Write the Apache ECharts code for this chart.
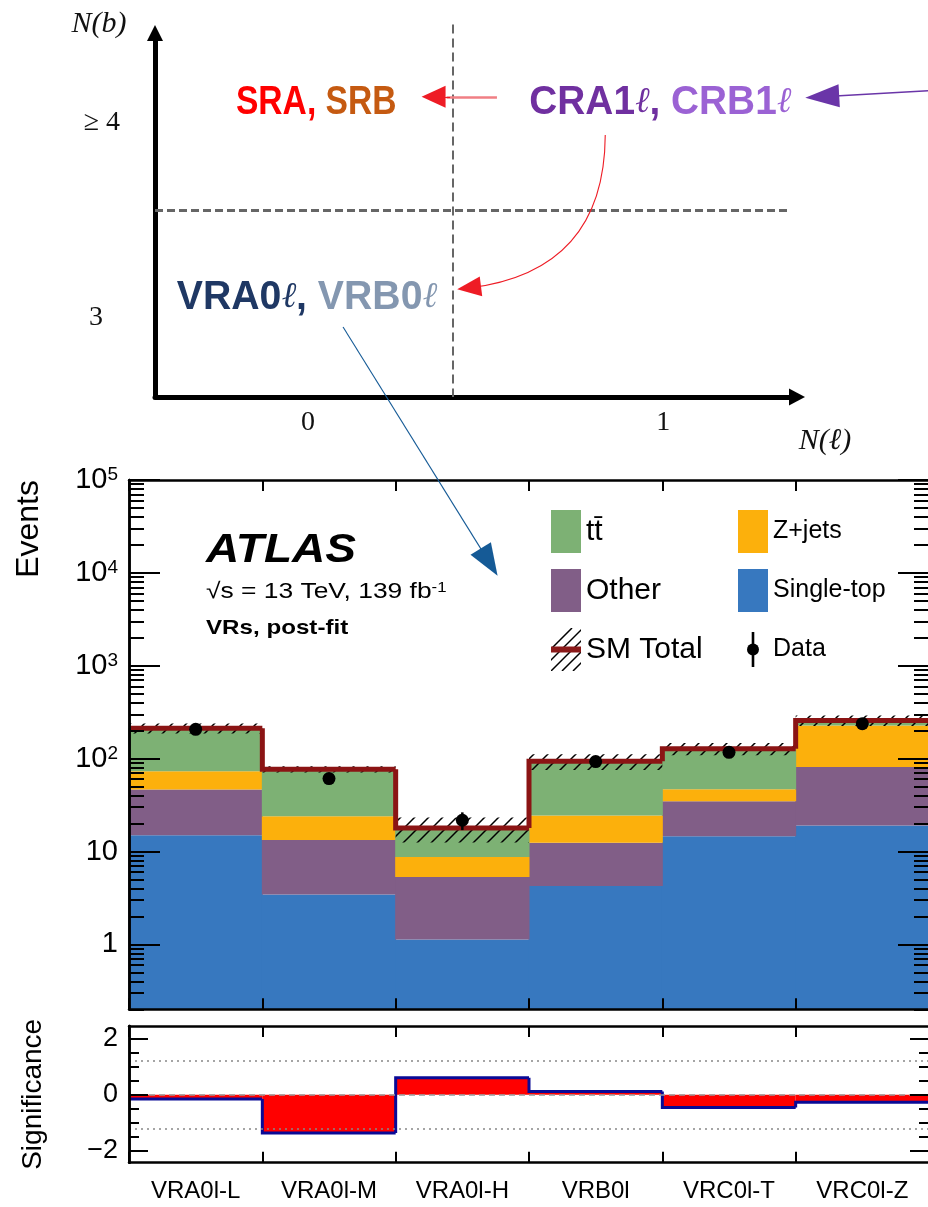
<!DOCTYPE html>
<html><head><meta charset="utf-8">
<script src="https://cdn.jsdelivr.net/npm/echarts@6/dist/echarts.min.js"></script>
<style>html,body{margin:0;padding:0;background:#fff}#c{width:928px;height:1207px}</style>
</head><body><div id="c"></div>
<script>
// ================= DATA =================
const categories = ['VRA0l-L', 'VRA0l-M', 'VRA0l-H', 'VRB0l', 'VRC0l-T', 'VRC0l-Z'];
const singleTop = [15.0, 3.45, 1.13, 4.24, 14.6, 19.0];
const otherBkg  = [31.4, 9.85, 4.2, 8.16, 20.2, 62.3];
const zJets     = [26.6, 10.7, 3.37, 12.0, 12.0, 146.7];
const ttbar     = [140, 53, 9.2, 69.2, 81.2, 30];
const smTotal    = [213, 77, 17.9, 93.6, 128, 258];
const smTotalErr = [26, 6, 5.4, 18, 19, 34];
const dataObs = [207, 61, 21.7, 93, 117, 238];
const dataErr = [14, 8, 4.7, 9.6, 10.8, 15.4];
const significance = [-0.15, -1.36, 0.61, 0.12, -0.45, -0.27];
const sigRefDotted = [1.2, -1.2];

const mainYMin = 0.2, mainYMax = 100000;
const mainYMajor = [1, 10, 100, 1000, 10000, 100000];
const mainYMajorLabels = ['1', '10', '10^2', '10^3', '10^4', '10^5'];
const sigYMajor = [-2, 0, 2];
const sigYMajorLabels = ['\u22122', '0', '2'];
const sigYMinor = [-1.5, -1, -0.5, 0.5, 1, 1.5];

// schematic (top) in its own axis units
const diagXTicks = [0, 1];
const diagXTickLabels = ['0', '1'];
const diagYTicks = [3, 4];
const diagYTickLabels = ['3', '\u2265 4'];
const diagDividerX = 0.408;
const diagDividerY = 3.554;
const diagTexts = [
  { pos: [0.023, 4.103], text: '{r|SRA, }{o|SRB}', sx: 0.84 },
  { pos: [0.992, 4.103], text: '{p1|CRA1}{p1l|\u2113}{p1|, }{p2|CRB1}{p2l|\u2113}', sx: 0.97 },
  { pos: [-0.003, 3.103], text: '{n1|VRA0}{n1l|\u2113}{n1|, }{n2|VRB0}{n2l|\u2113}', sx: 0.98 },
  { pos: [-0.589, 4.508], text: '{m|N(b)}', sx: 1 },
  { pos: [1.456, 2.369], text: '{m|N(\u2113)}', sx: 1 }
];
const arrowRedShaft = [[0.532, 4.133], [0.39, 4.133]];
const arrowRedHead  = [[0.40, 4.133], [0.3535, 4.133]];
const arrowPurple   = [[1.746, 4.164], [1.448, 4.133]];
const arrowCurve    = [[0.837, 3.938], [0.4535, 3.154]];
const arrowBlue     = [[0.0986, 2.954], [0.51, 1.749]];

// minor log ticks 2..9 x 10^k
const mainYMinor = [];
[0.1, 1, 10, 100, 1000, 10000].forEach(d => { for (let m = 2; m <= 9; m++) mainYMinor.push(+(m * d).toPrecision(3)); });

// ================= STYLE HELPERS =================
const SANS = "'Liberation Sans', Arial, sans-serif";
const SERIF = "'Liberation Serif', 'DejaVu Serif', serif";
const MATH = "'DejaVu Serif', 'Liberation Serif', serif";

function makeCanvas(w, h, draw) { const c = document.createElement('canvas'); c.width = w; c.height = h; draw(c.getContext('2d'), w, h); return c; }
const hatchTile = makeCanvas(14, 14, (g) => {
  g.strokeStyle = '#000'; g.lineWidth = 1.5; g.beginPath();
  g.moveTo(-1, 15); g.lineTo(15, -1); g.moveTo(-2, 2); g.lineTo(2, -2); g.moveTo(12, 16); g.lineTo(16, 12); g.stroke();
});
const hatchPattern = { image: hatchTile, repeat: 'repeat' };
const smIcon = makeCanvas(30, 43, (g, w, h) => {
  g.strokeStyle = '#000'; g.lineWidth = 1.5; g.beginPath();
  for (let k = -2; k < 5; k++) { g.moveTo(k * 11, h); g.lineTo(k * 11 + h, 0); }
  g.stroke();
  g.fillStyle = '#8b1a1a'; g.fillRect(0, h / 2 - 3, w, 6);
}).toDataURL();
const dataIcon = makeCanvas(30, 43, (g, w, h) => {
  g.fillStyle = '#000'; g.fillRect(w / 2 - 1.3, 4, 2.6, h - 8);
  g.beginPath(); g.arc(w / 2, h / 2, 6, 0, Math.PI * 2); g.fill();
}).toDataURL();

const black = '#000';
const mainCommonY = (pos, ticks, len, showLabel) => ({
  type: 'log', logBase: 10, gridIndex: 1, min: mainYMin, max: mainYMax, position: pos, z: 6,
  axisLine: { show: true, onZero: false, lineStyle: { color: black, width: 2.5 } },
  axisTick: { show: true, inside: true, length: len, customValues: ticks, lineStyle: { color: black, width: 2 } },
  axisLabel: showLabel ? {
    show: true, customValues: mainYMajor, margin: 11, color: black, fontSize: 29, fontFamily: SANS,
    formatter: v => {
      const idx = mainYMajor.findIndex(t => Math.abs(t - v) / t < 1e-6);
      const s = idx >= 0 ? mainYMajorLabels[idx] : '';
      const parts = s.split('^');
      return parts.length > 1 ? parts[0] + '{s|' + parts[1] + '}' : s;
    },
    rich: { s: { fontSize: 19, fontFamily: SANS, color: black, verticalAlign: 'top', lineHeight: 14 } }
  } : { show: false },
  splitLine: { show: false }
});
const sigCommonY = (pos, ticks, len, showLabel) => ({
  type: 'value', gridIndex: 2, min: -2.42, max: 2.45, position: pos, z: 6,
  axisLine: { show: true, onZero: false, lineStyle: { color: black, width: 2.5 } },
  axisTick: { show: true, inside: true, length: len, customValues: ticks, lineStyle: { color: black, width: 2 } },
  axisLabel: showLabel ? {
    show: true, customValues: sigYMajor, margin: 11, color: black, fontSize: 27, fontFamily: SANS,
    formatter: v => { const i = sigYMajor.findIndex(t => Math.abs(t - v) < 1e-6); return i >= 0 ? sigYMajorLabels[i] : ''; }
  } : { show: false },
  splitLine: { show: false }
});
const catX = (grid, pos, showLabel) => ({
  type: 'category', data: categories, gridIndex: grid, position: pos, boundaryGap: true, z: 6,
  axisLine: { show: true, onZero: false, lineStyle: { color: black, width: 2.5 } },
  axisTick: { show: true, inside: true, length: 11, lineStyle: { color: black, width: 2 } },
  axisLabel: showLabel ? { show: true, interval: 0, margin: 17, color: black, fontSize: 24, fontFamily: SANS } : { show: false },
  splitLine: { show: false }
});

function arrowSeries(coords, color, width, head, curveness) {
  return {
    type: 'lines', coordinateSystem: 'cartesian2d', xAxisIndex: 0, yAxisIndex: 0, clip: false, z: 20,
    symbol: ['none', 'triangle'], symbolSize: [0, head],
    lineStyle: { color: color, width: width, curveness: curveness || 0, opacity: 1 },
    data: [{ coords: coords }], silent: true
  };
}

// stacked histogram components (bottom -> top)
const stackDefs = [
  { name: 'Single-top', color: '#3778bf', values: singleTop },
  { name: 'Other', color: '#815e87', values: otherBkg },
  { name: 'Z+jets', color: '#fcb00c', values: zJets },
  { name: 't\u0074\u0304', color: '#7db174', values: ttbar }
];
const cumulative = categories.map(() => 0);
const stackSeries = stackDefs.map(def => {
  const data = def.values.map((v, i) => {
    const lo = cumulative[i];
    cumulative[i] += v;
    return [i, lo > 0 ? lo : mainYMin, cumulative[i]];
  });
  return {
    name: def.name, type: 'custom', xAxisIndex: 1, yAxisIndex: 1, z: 2, silent: true,
    itemStyle: { color: def.color }, data: data,
    renderItem: (params, api) => {
      const i = api.value(0);
      const bw = api.size([1, 0])[0];
      const top = api.coord([i, api.value(2)]), bot = api.coord([i, api.value(1)]);
      return { type: 'rect', shape: { x: top[0] - bw / 2 - 0.5, y: top[1], width: bw + 1, height: bot[1] - top[1] }, style: { fill: def.color } };
    }
  };
});

// ================= OPTION =================
const option = {
  animation: false,
  backgroundColor: '#fff',
  textStyle: { fontFamily: SANS },
  grid: [
    { left: 155, top: 33, width: 642, height: 364, containLabel: false, outerBoundsMode: 'none' },
    { left: 129, top: 480, width: 800, height: 529.3, containLabel: false, outerBoundsMode: 'none' },
    { left: 129, top: 1026, width: 800, height: 136.7, containLabel: false, outerBoundsMode: 'none' }
  ],
  xAxis: [
    {
      type: 'value', gridIndex: 0, min: -0.431, max: 1.377,
      axisLine: { show: true, onZero: false, symbol: ['none', 'triangle'], symbolSize: [17, 16], lineStyle: { color: black, width: 5 } },
      axisTick: { show: false }, splitLine: { show: false },
      axisLabel: { show: true, customValues: diagXTicks, margin: 12, color: '#111', fontSize: 28, fontFamily: SERIF,
        formatter: v => { const i = diagXTicks.indexOf(v); return i >= 0 ? diagXTickLabels[i] : ''; } }
    },
    catX(1, 'bottom', false),
    catX(1, 'top', false),
    catX(2, 'bottom', true),
    catX(2, 'top', false)
  ],
  yAxis: [
    {
      type: 'value', gridIndex: 0, min: 2.595, max: 4.46,
      axisLine: { show: true, onZero: false, symbol: ['none', 'triangle'], symbolSize: [16, 16], lineStyle: { color: black, width: 5 } },
      axisTick: { show: false }, splitLine: { show: false },
      axisLabel: { show: true, customValues: diagYTicks, margin: 35, color: '#111', fontSize: 28, fontFamily: SERIF,
        formatter: v => { const i = diagYTicks.indexOf(v); return i === 0 ? '{p|' + diagYTickLabels[i] + '}' : (i > 0 ? diagYTickLabels[i] : ''); },
        rich: { p: { padding: [0, 17, 0, 0], fontSize: 28, fontFamily: SERIF, color: '#111' } } }
    },
    mainCommonY('left', mainYMajor, 31, true),
    mainCommonY('left', mainYMinor, 15, false),
    mainCommonY('right', mainYMajor, 31, false),
    mainCommonY('right', mainYMinor, 15, false),
    Object.assign(sigCommonY('left', sigYMajor, 19, true), {
      name: 'Significance', nameLocation: 'middle', nameGap: 82,
      nameTextStyle: { fontSize: 28, fontFamily: SANS, color: black }
    }),
    sigCommonY('left', sigYMinor, 10, false),
    sigCommonY('right', sigYMajor, 19, false),
    sigCommonY('right', sigYMinor, 10, false)
  ],
  legend: [
    {
      orient: 'vertical', left: 551, top: 510, padding: 0, itemGap: 16, itemWidth: 30, itemHeight: 43,
      selectedMode: false, textStyle: { fontSize: 30, fontFamily: SANS, color: black },
      data: [{ name: 't\u0074\u0304', icon: 'rect' }, { name: 'Other', icon: 'rect' }, { name: 'SM Total', icon: 'image://' + smIcon }]
    },
    {
      orient: 'vertical', left: 738, top: 510, padding: 0, itemGap: 16, itemWidth: 30, itemHeight: 43,
      selectedMode: false, textStyle: { fontSize: 25, fontFamily: SANS, color: black },
      data: [{ name: 'Z+jets', icon: 'rect' }, { name: 'Single-top', icon: 'rect' }, { name: 'Data', icon: 'image://' + dataIcon }]
    }
  ],
  graphic: [
    { type: 'text', x: 29, y: 480, rotation: Math.PI / 2, style: { text: 'Events', fontSize: 32, fontFamily: SANS, fill: black, textAlign: 'right', textVerticalAlign: 'middle', verticalAlign: 'middle' } },
    { type: 'text', x: 206, y: 551, scaleX: 1.15, style: { text: 'ATLAS', fontSize: 40, fontWeight: 'bold', fontStyle: 'italic', fontFamily: SANS, fill: black, textAlign: 'left', textVerticalAlign: 'middle', verticalAlign: 'middle' } },
    { type: 'text', x: 206, y: 592, scaleX: 1.2, style: { text: '\u221As = 13 TeV, 139 fb{s|-1}', fontSize: 22, fontFamily: SANS, fill: black, textAlign: 'left', textVerticalAlign: 'middle', verticalAlign: 'middle',
      rich: { s: { fontSize: 14, fontFamily: SANS, fill: black, verticalAlign: 'top', lineHeight: 10 } } } },
    { type: 'text', x: 206, y: 628, scaleX: 1.15, style: { text: 'VRs, post-fit', fontSize: 21, fontWeight: 'bold', fontFamily: SANS, fill: black, textAlign: 'left', textVerticalAlign: 'middle', verticalAlign: 'middle' } }
  ],
  series: [
    // ---------- schematic ----------
    {
      type: 'lines', coordinateSystem: 'cartesian2d', xAxisIndex: 0, yAxisIndex: 0, clip: false, z: 3, silent: true,
      lineStyle: { opacity: 1 },
      data: [
        { coords: [[diagDividerX, 4.503], [diagDividerX, 2.595]], lineStyle: { color: '#666', width: 2, type: [9, 5] } },
        { coords: [[-0.431, diagDividerY], [1.349, diagDividerY]], lineStyle: { color: '#666', width: 3, type: [8, 4] } },
        { coords: arrowRedShaft, lineStyle: { color: '#f07f84', width: 2.5 } }
      ]
    },
    arrowSeries(arrowRedHead, '#ee1c25', 1, [22, 24]),
    arrowSeries(arrowPurple, '#6a35a8', 1.4, [23, 34]),
    arrowSeries(arrowCurve, '#ee1c25', 1.1, [20, 24], 0.44),
    arrowSeries(arrowBlue, '#155a96', 1.1, [24, 32]),
    {
      type: 'custom', xAxisIndex: 0, yAxisIndex: 0, clip: false, z: 10, silent: true,
      data: diagTexts.map(t => t.pos),
      renderItem: (params, api) => {
        const t = diagTexts[params.dataIndex];
        const p = api.coord([api.value(0), api.value(1)]);
        const B = { fontSize: 40, fontWeight: 'bold', fontFamily: SANS };
        const L = { fontSize: 36, fontStyle: 'italic', fontFamily: MATH };
        return {
          type: 'text', x: p[0], y: p[1], scaleX: t.sx,
          style: {
            text: t.text, textAlign: 'center', textVerticalAlign: 'middle', verticalAlign: 'middle', align: 'center',
            rich: {
              r: Object.assign({ fill: '#ff0000' }, B),
              o: Object.assign({ fill: '#c55a11' }, B),
              p1: Object.assign({ fill: '#7030a0' }, B),
              p1l: Object.assign({ fill: '#7030a0' }, L),
              p2: Object.assign({ fill: '#9b62d4' }, B),
              p2l: Object.assign({ fill: '#9b62d4' }, L),
              n1: Object.assign({ fill: '#1f3864' }, B),
              n1l: Object.assign({ fill: '#1f3864' }, L),
              n2: Object.assign({ fill: '#8497b0' }, B),
              n2l: Object.assign({ fill: '#8497b0' }, L),
              m: { fill: '#111', fontSize: 30, fontStyle: 'italic', fontFamily: SERIF }
            }
          }
        };
      }
    },
    // ---------- main stacked histogram ----------
    ...stackSeries,
    {
      name: 'SM Total', type: 'custom', xAxisIndex: 1, yAxisIndex: 1, z: 4, silent: true,
      itemStyle: { color: '#8b1a1a' },
      data: smTotal.map((t, i) => [i, t, smTotalErr[i], i > 0 ? smTotal[i - 1] : t]),
      renderItem: (params, api) => {
        const i = api.value(0), tot = api.value(1), err = api.value(2), prev = api.value(3);
        const bw = api.size([1, 0])[0];
        const c = api.coord([i, tot]);
        const xl = c[0] - bw / 2, xr = c[0] + bw / 2;
        const yHi = api.coord([i, tot + err])[1], yLo = api.coord([i, tot - err])[1];
        const yPrev = api.coord([i, prev])[1];
        return {
          type: 'group', children: [
            { type: 'rect', shape: { x: xl, y: yHi, width: bw, height: yLo - yHi }, style: { fill: hatchPattern } },
            { type: 'polyline', shape: { points: [[xl, yPrev], [xl, c[1]], [xr, c[1]]] }, style: { stroke: '#8b1414', lineWidth: 5, fill: null } }
          ]
        };
      }
    },
    {
      name: 'Data', type: 'custom', xAxisIndex: 1, yAxisIndex: 1, z: 5, silent: true,
      itemStyle: { color: black },
      data: dataObs.map((v, i) => [i, v, dataErr[i]]),
      renderItem: (params, api) => {
        const i = api.value(0), v = api.value(1), e = api.value(2);
        const top = api.coord([i, v + e]), bot = api.coord([i, v - e]);
        return { type: 'line', shape: { x1: top[0], y1: top[1], x2: bot[0], y2: bot[1] }, style: { stroke: black, lineWidth: 2.5 } };
      }
    },
    { name: 'Data', type: 'scatter', xAxisIndex: 1, yAxisIndex: 1, z: 6, symbol: 'circle', symbolSize: 13, itemStyle: { color: black, opacity: 1 }, data: dataObs.map((v, i) => [i, v]), silent: true },
    // ---------- significance ----------
    {
      type: 'line', xAxisIndex: 3, yAxisIndex: 5, data: [], z: 1, silent: true,
      markLine: {
        symbol: 'none', silent: true, label: { show: false }, animation: false,
        data: [
          { yAxis: 0, lineStyle: { type: [6, 4], color: '#999', width: 1.5 } },
          { yAxis: sigRefDotted[0], lineStyle: { type: [2, 4], color: '#888', width: 1.5 } },
          { yAxis: sigRefDotted[1], lineStyle: { type: [2, 4], color: '#888', width: 1.5 } }
        ]
      }
    },
    {
      type: 'custom', xAxisIndex: 3, yAxisIndex: 5, z: 3, silent: true,
      data: significance.map((v, i) => [i, v, i > 0 ? significance[i - 1] : v]),
      renderItem: (params, api) => {
        const i = api.value(0), v = api.value(1), prev = api.value(2);
        const bw = api.size([1, 0])[0];
        const c = api.coord([i, v]);
        const y0 = api.coord([i, 0])[1];
        const yPrev = api.coord([i, prev])[1];
        const xl = c[0] - bw / 2, xr = c[0] + bw / 2;
        return {
          type: 'group', children: [
            { type: 'rect', shape: { x: xl, y: Math.min(y0, c[1]), width: bw, height: Math.abs(c[1] - y0) }, style: { fill: '#ff0000' } },
            { type: 'polyline', shape: { points: [[xl, yPrev], [xl, c[1]], [xr, c[1]]] }, style: { stroke: '#0a0a96', lineWidth: 3, fill: null } }
          ]
        };
      }
    }
  ]
};

const chart = echarts.init(document.getElementById('c'), null, { renderer: 'canvas' });
chart.setOption(option);
</script>
</body></html>
